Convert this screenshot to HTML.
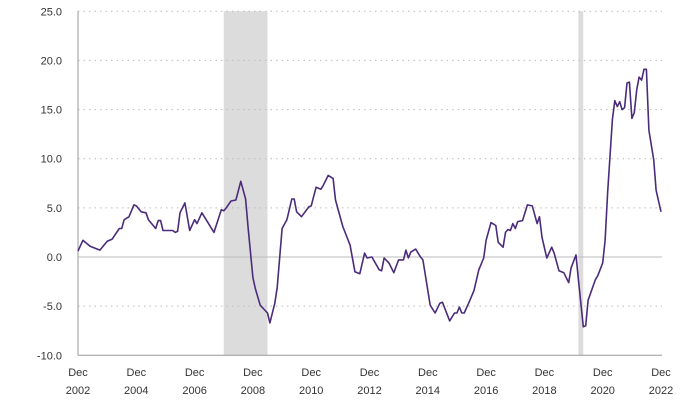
<!DOCTYPE html>
<html><head><meta charset="utf-8"><style>
body{margin:0;background:#fff;font-family:"Liberation Sans",sans-serif}
svg text{font-family:"Liberation Sans",sans-serif;font-size:11px;fill:#333}
</style></head><body>
<svg id="c" width="696" height="402"></svg>
<script>
const months=[0,2,5,9,12,14,17,18,19,21,23,24,26,28,29,32,33,34,35,39,40,41,42,44,46,48,49,51,56,59,60,61,63,65,67,69,70,72,73,75,78,79,81,82,84,86,88,89,90,92,95,96,98,100,101,103,105,106,109,112,114,116,118,119,121,124,125,126,128,130,132,134,135,136,137,139,141,142,145,147,149,150,153,155,156,157,158,159,161,163,165,167,168,170,172,173,175,176,177,178,179,180,181,183,185,187,189,190,191,193,195,196,198,200,202,203,205,206,208,209,210,213,214,216,217,218,220,221,222,223,224,225,226,227,228,229,230,231,232,233,234,235,237,238,240];
const values=[0.6,1.7,1.1,0.7,1.6,1.8,2.9,2.9,3.8,4.1,5.3,5.2,4.6,4.5,3.8,2.9,3.7,3.7,2.7,2.7,2.5,2.6,4.5,5.5,2.7,3.8,3.4,4.5,2.5,4.8,4.7,5.0,5.7,5.8,7.7,5.9,3.1,-2.1,-3.2,-4.9,-5.7,-6.7,-4.7,-3.1,2.9,3.8,5.9,5.9,4.6,4.1,5.1,5.2,7.1,6.9,7.3,8.3,8.0,5.8,3.1,1.2,-1.5,-1.7,0.4,-0.1,0.0,-1.3,-1.4,-0.1,-0.6,-1.6,-0.3,-0.3,0.7,-0.1,0.5,0.8,0.0,-0.3,-4.9,-5.7,-4.7,-4.6,-6.5,-5.7,-5.7,-5.1,-5.7,-5.7,-4.6,-3.4,-1.3,-0.1,1.7,3.5,3.2,1.5,1.0,2.5,2.8,2.7,3.4,2.9,3.6,3.7,5.3,5.2,3.4,4.1,2.0,-0.1,1.0,0.4,-1.4,-1.6,-2.6,-1.1,0.2,-2.3,-7.1,-7.0,-4.4,-2.3,-1.9,-0.6,1.7,6.5,14.0,15.9,15.3,15.8,15.0,15.2,17.7,17.8,14.1,14.7,17.0,18.3,18.0,19.1,19.1,12.9,9.9,6.8,4.6];
const yTicks=[25,20,15,10,5,0,-5,-10];
const yTickLabels=["25.0","20.0","15.0","10.0","5.0","0.0","-5.0","-10.0"];
const xTickMonths=[0,24,48,72,96,120,144,168,192,216,240];
const xTickYears=["2002","2004","2006","2008","2010","2012","2014","2016","2018","2020","2022"];
const recessionStarts=[60,206];
const recessionEnds=[78,208];
const svg=document.getElementById('c');const NS='http://www.w3.org/2000/svg';
const X=m=>78+m*(583/240), Y=v=>257-v*(344/35);
function mk(t,a,name){const e=document.createElementNS(NS,t);for(const k in a)e.setAttribute(k,a[k]);


svg.appendChild(e);return e;}
recessionStarts.forEach((s,i)=>{mk('rect',{x:X(s),y:Y(25),width:X(recessionEnds[i])-X(s),height:Y(-10)-Y(25),fill:'#dcdcdc'},'recession-band');});
yTicks.forEach((v,i)=>{
 if(v===0) mk('line',{x1:78,x2:662,y1:Y(v),y2:Y(v),stroke:'#bbb'},'zero-line');
 else if(v!==-10) mk('line',{x1:78,x2:662,y1:Y(v),y2:Y(v),stroke:'#bbb','stroke-dasharray':'1.5,4'},'gridline');
 const t=mk('text',{x:62,y:Y(v)+4,'text-anchor':'end'},'y-tick-label');t.textContent=yTickLabels[i];
});
mk('line',{x1:78,x2:78,y1:Y(25),y2:Y(-10),stroke:'#999'},'y-axis-line');
mk('line',{x1:78,x2:662,y1:Y(-10),y2:Y(-10),stroke:'#999'},'x-axis-line');
xTickMonths.forEach((m,i)=>{
 const a=mk('text',{x:X(m),y:376,'text-anchor':'middle'},'x-tick-month');a.textContent='Dec';
 const b=mk('text',{x:X(m),y:394,'text-anchor':'middle'},'x-tick-year');b.textContent=xTickYears[i];
});
mk('path',{d:months.map((m,i)=>(i?'L':'M')+X(m).toFixed(1)+','+Y(values[i]).toFixed(1)).join(''),fill:'none',stroke:'#4b2c7a','stroke-width':1.6,'stroke-linejoin':'round'},'data-line');
</script>
</body></html>
